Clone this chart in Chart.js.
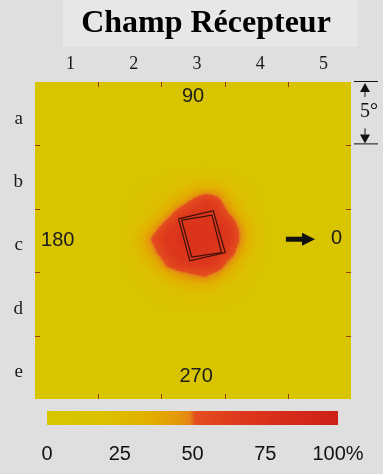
<!DOCTYPE html>
<html>
<head>
<meta charset="utf-8">
<script src="https://cdn.jsdelivr.net/npm/chart.js@4.4.0/dist/chart.umd.min.js"></script>
<style>
  body { margin: 0; background: #dfdfdf; }
  #wrap { position: relative; width: 383px; height: 474px; }
  canvas { position: absolute; left: 0; }
</style>
</head>
<body>
<div id="wrap">
  <canvas id="field" width="383" height="474" style="top:0"></canvas>
  <canvas id="scale" width="383" height="74" style="top:400px"></canvas>
</div>
<script>
// grid labels
var colLabels = ['1', '2', '3', '4', '5'];
var rowLabels = ['a', 'b', 'c', 'd', 'e'];

// response values (%) around the field centre
var heatX = [2.0, 2.2, 2.4, 2.6, 2.8, 3.0, 3.2, 3.4, 3.6, 3.8, 4.0];
var heatY = [2.0, 2.2, 2.4, 2.6, 2.8, 3.0, 3.2, 3.4, 3.6, 3.8, 4.0];
var heatZ = [
  [10, 10, 12, 14, 18, 22, 24, 22, 16, 12, 10],
  [10, 12, 16, 22, 30, 38, 44, 42, 30, 18, 12],
  [12, 16, 24, 36, 46, 68, 95, 82, 46, 28, 14],
  [14, 22, 36, 48, 85, 95, 95, 95, 62, 38, 18],
  [16, 32, 48, 85, 95, 95, 98, 95, 92, 56, 24],
  [24, 46, 80, 95, 98, 100, 100, 95, 95, 64, 28],
  [20, 40, 62, 92, 95, 98, 98, 95, 88, 50, 22],
  [16, 28, 42, 75, 95, 95, 95, 92, 60, 34, 18],
  [12, 18, 28, 42, 55, 62, 72, 58, 36, 22, 12],
  [10, 12, 16, 22, 30, 36, 36, 30, 20, 14, 10],
  [ 8, 10, 12, 14, 18, 20, 20, 16, 12, 10,  8]
];
var bgLevel = 6;

// the two stimulus squares
var outerSqX = [2.77, 3.32, 3.51, 2.95, 2.77];
var outerSqY = [2.66, 2.53, 3.19, 3.32, 2.66];
var innerSqX = [2.82, 3.30, 3.45, 2.98, 2.82];
var innerSqY = [2.68, 2.60, 3.19, 3.26, 2.68];

// direction labels
var dirLabels = ['90', '180', '0', '270'];
var barTicks = [0, 25, 50, 75, 100];

// colour map
var cmapStops  = [0, 20, 35, 45, 49, 51, 65, 80, 100];
var cmapColors = [[214,198,0],[220,192,0],[226,176,0],[228,152,10],[228,132,22],
                  [228,78,30],[222,58,28],[215,45,26],[206,32,24]];

function cmapRGB(v) {
  if (v <= cmapStops[0]) return cmapColors[0];
  for (var i = 1; i < cmapStops.length; i++) {
    if (v <= cmapStops[i]) {
      var t = (v - cmapStops[i-1]) / (cmapStops[i] - cmapStops[i-1]);
      var a = cmapColors[i-1], b = cmapColors[i];
      return [0,1,2].map(function(k){ return Math.round(a[k] + (b[k]-a[k])*t); });
    }
  }
  return cmapColors[cmapColors.length-1];
}
function cmap(v) { return 'rgb(' + cmapRGB(v).join(',') + ')'; }
// values are first drawn as grey levels, then coloured after smoothing
function grey(v) { var g = Math.round(v * 2.55); return 'rgb(' + g + ',' + g + ',' + g + ')'; }
var lut = [];
for (var g = 0; g < 256; g++) lut.push(cmapRGB(g / 2.55));

var heatPoints = [];
heatY.forEach(function(y, r) {
  heatX.forEach(function(x, c) { heatPoints.push({x: x, y: y, v: heatZ[r][c]}); });
});
function toPts(xs, ys) { return xs.map(function(x, i){ return {x: x, y: ys[i]}; }); }

// layout of annotations (data units)
var dirPos = [[3.0, 0.73], [0.86, 3.0], [5.27, 2.97], [3.05, 5.15]];
var arrowFrom = 4.47, arrowTo = 4.93, arrowY = 2.98;

var decor = {
  id: 'decor',
  beforeDraw: function(chart) {
    var ctx = chart.ctx;
    ctx.save();
    ctx.fillStyle = '#e7e7e7';
    ctx.fillRect(63, 0, 295, 47);
    ctx.fillStyle = '#000';
    ctx.font = 'bold 32px "Liberation Serif"';
    ctx.textAlign = 'center';
    ctx.textBaseline = 'alphabetic';
    ctx.fillText('Champ Récepteur', 206, 32);
    ctx.restore();
  },
  beforeDatasetsDraw: function(chart) {
    var a = chart.chartArea, ctx = chart.ctx;
    ctx.save();
    ctx.fillStyle = grey(bgLevel);
    ctx.fillRect(a.left, a.top, a.right - a.left, a.bottom - a.top);
    ctx.restore();
  },
  beforeDatasetDraw: function(chart, args) {
    if (args.index !== 0) return;
    chart.ctx.save();
    chart.ctx.filter = 'blur(7px)';
  },
  afterDatasetDraw: function(chart, args) {
    if (args.index !== 0) return;
    var ctx = chart.ctx, a = chart.chartArea;
    ctx.restore();
    var l = Math.round(a.left), t = Math.round(a.top);
    var w = Math.round(a.right) - l, h = Math.round(a.bottom) - t;
    var img = ctx.getImageData(l, t, w, h), d = img.data;
    for (var i = 0; i < d.length; i += 4) {
      var c = lut[d[i]];
      d[i] = c[0]; d[i+1] = c[1]; d[i+2] = c[2]; d[i+3] = 255;
    }
    ctx.putImageData(img, l, t);
  },
  afterDatasetsDraw: function(chart) {
    var ctx = chart.ctx, a = chart.chartArea;
    var xs = chart.scales.x, ys = chart.scales.y;
    ctx.save();
    // inner tick marks on cell borders
    ctx.strokeStyle = 'rgba(140,50,10,0.9)';
    ctx.lineWidth = 1;
    for (var i = 1; i < colLabels.length; i++) {
      var px = Math.round(xs.getPixelForValue(i + 0.5)) + 0.5;
      ctx.beginPath();
      ctx.moveTo(px, a.top); ctx.lineTo(px, a.top + 5);
      ctx.moveTo(px, a.bottom); ctx.lineTo(px, a.bottom - 5);
      ctx.stroke();
    }
    for (var j = 1; j < rowLabels.length; j++) {
      var py = Math.round(ys.getPixelForValue(j + 0.5)) + 0.5;
      ctx.beginPath();
      ctx.moveTo(a.left, py); ctx.lineTo(a.left + 5, py);
      ctx.moveTo(a.right, py); ctx.lineTo(a.right - 5, py);
      ctx.stroke();
    }
    // direction labels
    ctx.fillStyle = '#1c1c1c';
    ctx.font = '20px "Liberation Sans"';
    ctx.textAlign = 'center';
    ctx.textBaseline = 'middle';
    dirLabels.forEach(function(t, k) {
      ctx.fillText(t, xs.getPixelForValue(dirPos[k][0]), ys.getPixelForValue(dirPos[k][1]));
    });
    // arrow pointing to 0
    var x0 = xs.getPixelForValue(arrowFrom), x1 = xs.getPixelForValue(arrowTo), y0 = ys.getPixelForValue(arrowY);
    ctx.fillStyle = '#111';
    ctx.fillRect(x0, y0 - 2.5, x1 - x0 - 11, 5);
    ctx.beginPath();
    ctx.moveTo(x1, y0); ctx.lineTo(x1 - 13, y0 - 6.5); ctx.lineTo(x1 - 13, y0 + 6.5);
    ctx.closePath(); ctx.fill();
    // 5 degree scale bar
    var top = ys.getPixelForValue(0.5), bot = ys.getPixelForValue(1.5), cx = a.right + 14;
    ctx.strokeStyle = '#111';
    ctx.lineWidth = 1;
    ctx.beginPath();
    ctx.moveTo(a.right + 3, top - 0.5); ctx.lineTo(a.right + 27, top - 0.5);
    ctx.moveTo(a.right + 3, bot - 1.5); ctx.lineTo(a.right + 27, bot - 1.5);
    ctx.moveTo(cx, top + 9); ctx.lineTo(cx, top + 15);
    ctx.moveTo(cx, bot - 11); ctx.lineTo(cx, bot - 17);
    ctx.stroke();
    ctx.beginPath();
    ctx.moveTo(cx, top + 1); ctx.lineTo(cx - 5, top + 10); ctx.lineTo(cx + 5, top + 10); ctx.closePath();
    ctx.moveTo(cx, bot - 2); ctx.lineTo(cx - 5, bot - 11); ctx.lineTo(cx + 5, bot - 11); ctx.closePath();
    ctx.fill();
    ctx.font = '20px "Liberation Serif"';
    ctx.fillText('5°', cx + 4, (top + bot) / 2 - 2);
    ctx.restore();
  }
};

var lineStyle = { showLine: true, pointRadius: 0, borderColor: '#3a1208', borderWidth: 1.2, fill: false, order: 1 };

new Chart(document.getElementById('field'), {
  type: 'scatter',
  data: {
    datasets: [
      {
        data: heatPoints,
        pointStyle: 'rect',
        borderWidth: 0,
        order: 2,
        backgroundColor: function(c) { return c.raw ? grey(c.raw.v) : 'transparent'; },
        pointRadius: function(c) {
          var s = c.chart.scales.x;
          var cell = Math.abs(s.getPixelForValue(heatX[1]) - s.getPixelForValue(heatX[0]));
          return isFinite(cell) ? (cell + 1) / Math.SQRT2 : 9;
        }
      },
      Object.assign({ data: toPts(outerSqX, outerSqY) }, lineStyle),
      Object.assign({ data: toPts(innerSqX, innerSqY) }, lineStyle)
    ]
  },
  options: {
    responsive: false,
    animation: false,
    events: [],
    layout: { padding: { top: 48, left: 0, right: 32, bottom: 75 } },
    plugins: { legend: { display: false }, tooltip: { enabled: false } },
    scales: {
      x: {
        type: 'linear', position: 'top', min: 0.5, max: 5.5,
        grid: { display: false, drawTicks: false }, border: { display: false },
        afterBuildTicks: function(s) { s.ticks = colLabels.map(function(l, i){ return {value: i + 1}; }); },
        afterFit: function(s) { s.height = 34; },
        ticks: {
          padding: 7, labelOffset: 4, color: '#1a1a1a', maxRotation: 0, autoSkip: false,
          font: { family: 'Liberation Serif', size: 18 },
          callback: function(v) { return colLabels[v - 1]; }
        }
      },
      y: {
        type: 'linear', reverse: true, min: 0.5, max: 5.5,
        grid: { display: false, drawTicks: false }, border: { display: false },
        afterBuildTicks: function(s) { s.ticks = rowLabels.map(function(l, i){ return {value: i + 1}; }); },
        afterFit: function(s) { s.width = 35; },
        ticks: {
          padding: 12, labelOffset: 5, color: '#1a1a1a', autoSkip: false,
          font: { family: 'Liberation Serif', size: 19 },
          callback: function(v) { return rowLabels[v - 1]; }
        }
      }
    }
  },
  plugins: [decor]
});

// colour scale bar
new Chart(document.getElementById('scale'), {
  type: 'bar',
  data: {
    labels: ['%'],
    datasets: [{
      data: [[barTicks[0], barTicks[barTicks.length - 1]]],
      barPercentage: 1, categoryPercentage: 1, borderWidth: 0,
      backgroundColor: function(c) {
        var s = c.chart.scales.x;
        if (!s || !c.chart.chartArea) return cmap(0);
        var x0 = s.getPixelForValue(0), x1 = s.getPixelForValue(100);
        if (!isFinite(x0) || !isFinite(x1)) return cmap(0);
        var g = c.chart.ctx.createLinearGradient(x0, 0, x1, 0);
        cmapStops.forEach(function(v) { g.addColorStop(v / 100, cmap(v)); });
        return g;
      }
    }]
  },
  options: {
    indexAxis: 'y',
    responsive: false,
    animation: false,
    events: [],
    layout: { padding: { top: 11, left: 47, right: 45, bottom: 0 } },
    plugins: { legend: { display: false }, tooltip: { enabled: false } },
    scales: {
      x: {
        type: 'linear', min: 0, max: 100,
        grid: { display: false, drawTicks: false }, border: { display: false },
        afterBuildTicks: function(s) { s.ticks = barTicks.map(function(v){ return {value: v}; }); },
        afterFit: function(s) { s.height = 49; },
        ticks: {
          padding: 17, color: '#111', maxRotation: 0, autoSkip: false,
          font: { family: 'Liberation Sans', size: 20 },
          callback: function(v) { return v === 100 ? '100%' : String(v); }
        }
      },
      y: { display: false }
    }
  }
});
</script>
</body>
</html>
